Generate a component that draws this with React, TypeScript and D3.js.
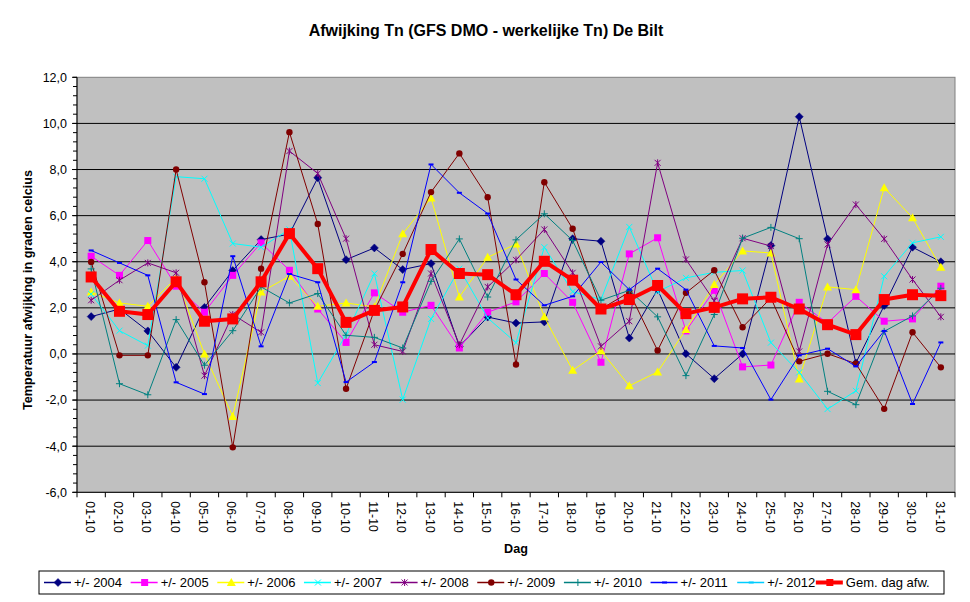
import React from 'react'
import { scaleBand, scaleLinear, line, range } from 'd3';

const days = range(1, 32).map(d => `${String(d).padStart(2, '0')}-10`);

const yTicks = [-6, -4, -2, 0, 2, 4, 6, 8, 10, 12];

const y2004 = [1.62, 1.95, 1.0, -0.58, 2.02, 3.62, 4.96, 5.2, 7.64, 4.09, 4.6, 3.66, 3.92, 0.33, 1.6, 1.34, 1.39, 5.0, 4.89, 0.69, 2.8, 0.01, -1.07, 0.0, 4.7, 10.29, 4.99, -0.39, 2.1, 4.63, 4.0];
const y2005 = [4.24, 3.41, 4.92, 2.94, 1.81, 3.41, 4.82, 3.63, 1.95, 0.5, 2.65, 1.81, 2.11, 0.26, 1.81, 2.26, 3.49, 2.24, -0.36, 4.34, 5.04, 1.0, 2.76, -0.56, -0.48, 2.24, 1.34, 2.5, 1.42, 1.52, 2.94];
const y2006 = [2.69, 2.21, 2.07, 3.3, 0.0, -2.71, 2.69, 3.37, 2.07, 2.21, 2.04, 5.21, 6.77, 2.47, 4.19, 4.77, 1.61, -0.71, 0.14, -1.38, -0.78, 1.06, 3.01, 4.47, 4.38, -1.09, 2.91, 2.79, 7.21, 5.91, 3.76];
const y2007 = [2.6, 1.01, 0.36, 7.69, 7.6, 4.79, 4.63, 5.4, -1.26, 0.84, 3.49, -1.98, 1.52, 3.7, 1.56, 0.49, 4.63, 2.7, 2.36, 5.51, 2.7, 3.3, 3.54, 3.62, 0.49, -0.8, -2.39, -1.6, 3.37, 4.82, 5.08];
const y2008 = [2.33, 3.2, 3.95, 3.52, -0.94, 1.71, 0.94, 8.8, 7.83, 5.0, 0.4, 0.11, 3.49, 0.4, 2.91, 4.08, 5.4, 3.52, 0.33, 1.42, 8.29, 4.1, 2.3, 5.02, 4.68, 0.11, 4.75, 6.48, 4.99, 3.23, 1.61];
const y2009 = [3.99, -0.06, -0.06, 8.0, 3.11, -4.05, 3.7, 9.62, 5.64, -1.51, 1.9, 4.34, 7.02, 8.7, 6.8, -0.46, 7.45, 5.43, 1.95, 2.68, 0.15, 2.65, 3.63, 1.16, 2.43, -0.32, 0.01, -0.42, -2.38, 0.94, -0.58];
const y2010 = [3.69, -1.29, -1.77, 1.49, -0.49, 1.01, 2.91, 2.21, 2.62, 0.81, 0.72, 0.26, 3.15, 4.99, 2.47, 4.95, 6.08, 4.92, 2.33, 2.76, 1.61, -0.94, 1.71, 5.02, 5.49, 5.0, -1.62, -2.2, 0.98, 1.65, 2.85];
const y2011 = [4.49, 3.95, 3.41, -1.23, -1.74, 4.24, 0.33, 3.47, 3.11, -1.22, -0.35, 3.11, 8.22, 6.99, 6.09, 3.23, 2.11, 2.5, 3.99, 2.79, 3.7, 2.79, 0.35, 0.26, -1.98, -0.06, 0.23, -0.54, 1.0, -2.17, 0.5];
const y2012: number[] = [];
const gemiddeld = [3.34, 1.85, 1.71, 3.13, 1.42, 1.52, 3.13, 5.22, 3.70, 1.37, 1.89, 2.04, 4.53, 3.49, 3.44, 2.57, 4.02, 3.20, 1.95, 2.36, 2.97, 1.75, 2.02, 2.39, 2.46, 1.95, 1.27, 0.84, 2.36, 2.57, 2.53];

type Marker = 'diamond' | 'square' | 'triangle' | 'x' | 'star' | 'circle' | 'plus' | 'dash' | 'bigsquare';

interface ISeries {
    name: string,
    values: number[],
    color: string,
    marker: Marker,
    width: number,
}

const series: ISeries[] = [
    { name: '+/- 2004', values: y2004, color: '#000080', marker: 'diamond', width: 1 },
    { name: '+/- 2005', values: y2005, color: '#FF00FF', marker: 'square', width: 1 },
    { name: '+/- 2006', values: y2006, color: '#FFFF00', marker: 'triangle', width: 1 },
    { name: '+/- 2007', values: y2007, color: '#00FFFF', marker: 'x', width: 1 },
    { name: '+/- 2008', values: y2008, color: '#800080', marker: 'star', width: 1 },
    { name: '+/- 2009', values: y2009, color: '#800000', marker: 'circle', width: 1 },
    { name: '+/- 2010', values: y2010, color: '#008080', marker: 'plus', width: 1 },
    { name: '+/- 2011', values: y2011, color: '#0000FF', marker: 'dash', width: 1 },
    { name: '+/- 2012', values: y2012, color: '#00CCFF', marker: 'dash', width: 1 },
    { name: 'Gem. dag afw.', values: gemiddeld, color: '#FF0000', marker: 'bigsquare', width: 4 },
];

const FONT = 'Arial, "Liberation Sans", sans-serif';

const MarkerShape = ({ kind, x, y, color }: { kind: Marker, x: number, y: number, color: string }) => {
    switch (kind) {
        case 'diamond':
            return <path d={`M${x},${y - 4}L${x + 4},${y}L${x},${y + 4}L${x - 4},${y}Z`} fill={color} stroke={color} strokeWidth={0.5} />;
        case 'square':
            return <rect x={x - 3.5} y={y - 3.5} width={7} height={7} fill={color} />;
        case 'triangle':
            return <path d={`M${x},${y - 4.5}L${x + 4.5},${y + 3.5}L${x - 4.5},${y + 3.5}Z`} fill={color} />;
        case 'x':
            return <path d={`M${x - 3},${y - 3}L${x + 3},${y + 3}M${x - 3},${y + 3}L${x + 3},${y - 3}`} stroke={color} strokeWidth={1} fill="none" />;
        case 'star':
            return <path d={`M${x - 3},${y - 3}L${x + 3},${y + 3}M${x - 3},${y + 3}L${x + 3},${y - 3}M${x},${y - 3.5}L${x},${y + 3.5}`} stroke={color} strokeWidth={1} fill="none" />;
        case 'circle':
            return <circle cx={x} cy={y} r={3.2} fill={color} />;
        case 'plus':
            return <path d={`M${x - 3.5},${y}L${x + 3.5},${y}M${x},${y - 3.5}L${x},${y + 3.5}`} stroke={color} strokeWidth={1} fill="none" />;
        case 'dash':
            return <rect x={x - 2.5} y={y - 1} width={5} height={2} fill={color} />;
        case 'bigsquare':
            return <rect x={x - 5.5} y={y - 5.5} width={11} height={11} fill={color} />;
    }
};

const App = () => {
    const width = 970;
    const height = 602;
    const plot = { left: 77, right: 955, top: 77.3, bottom: 492.3 };

    const x = scaleBand<string>()
        .domain(days)
        .range([plot.left, plot.right])
        .paddingInner(0)
        .paddingOuter(0);

    const y = scaleLinear()
        .domain([-6, 12])
        .range([plot.bottom, plot.top]);

    const cx = (d: string) => (x(d) || 0) + x.bandwidth() / 2;

    const path = line<number>()
        .x((_, i) => cx(days[i]))
        .y(v => y(v));

    const minorTicks = range(-6, 12.001, 0.4);
    const fmt = (v: number) => v.toFixed(1).replace('.', ',');

    const legendStep = 86.65;
    const legendX = (i: number) => 41 + i * legendStep - (i === series.length - 1 ? 8 : 0);

    return (
        <svg width={width} height={height} style={{ position: 'absolute', left: 0, top: 0, background: '#fff' }} fontFamily={FONT}>
            <text x={486} y={36} textAnchor="middle" fontSize={16} fontWeight="bold">
                Afwijking Tn (GFS DMO - werkelijke Tn) De Bilt
            </text>

            <rect x={plot.left} y={plot.top} width={plot.right - plot.left} height={plot.bottom - plot.top} fill="#C0C0C0" stroke="#808080" strokeWidth={1} />

            {yTicks.filter(t => t > -6 && t < 12).map(t => (
                <line key={t} x1={plot.left} x2={plot.right} y1={y(t)} y2={y(t)} stroke="#000" strokeWidth={1} />
            ))}

            {/* y axis */}
            <line x1={plot.left} x2={plot.left} y1={plot.top} y2={plot.bottom} stroke="#000" />
            {minorTicks.map((t, i) => (
                <line key={i} x1={plot.left - 4} x2={plot.left} y1={y(t)} y2={y(t)} stroke="#000" />
            ))}
            {yTicks.map(t => (
                <g key={t}>
                    <line x1={plot.left - 5} x2={plot.left} y1={y(t)} y2={y(t)} stroke="#000" />
                    <text x={67} y={y(t)} dy="0.35em" textAnchor="end" fontSize={12.5}>{fmt(t)}</text>
                </g>
            ))}
            <text transform={`translate(32, 290) rotate(-90)`} textAnchor="middle" fontSize={12.6} fontWeight="bold">
                Temperatuur afwijking in graden celcius
            </text>

            {/* x axis */}
            <line x1={plot.left} x2={plot.right} y1={plot.bottom} y2={plot.bottom} stroke="#000" />
            {days.map(d => (
                <line key={d} x1={x(d)} x2={x(d)} y1={plot.bottom} y2={plot.bottom + 5} stroke="#000" />
            ))}
            <line x1={plot.right} x2={plot.right} y1={plot.bottom} y2={plot.bottom + 5} stroke="#000" />
            {days.map(d => (
                <text key={d} transform={`translate(${cx(d) - 1}, ${plot.bottom + 9}) rotate(90)`} dy="0.35em" fontSize={12.3}>{d}</text>
            ))}
            <text x={(plot.left + plot.right) / 2} y={553} textAnchor="middle" fontSize={12.6} fontWeight="bold">Dag</text>

            {/* series */}
            {series.map(s => s.values.length > 0 && (
                <g key={s.name}>
                    <path d={path(s.values) || ''} fill="none" stroke={s.color} strokeWidth={s.width} strokeLinejoin="round" />
                    {s.values.map((v, i) => (
                        <MarkerShape key={i} kind={s.marker} x={cx(days[i])} y={y(v)} color={s.color} />
                    ))}
                </g>
            ))}

            {/* legend */}
            <rect x={39} y={571} width={905} height={23} fill="#fff" stroke="#000" strokeWidth={1} />
            {series.map((s, i) => (
                <g key={s.name} transform={`translate(${legendX(i)}, 582.5)`}>
                    <line x1={3} x2={30} y1={0} y2={0} stroke={s.color} strokeWidth={s.width === 1 ? 1.5 : 4} />
                    <MarkerShape kind={s.marker === 'bigsquare' ? 'square' : s.marker} x={17} y={0} color={s.color} />
                    <text x={33} y={0} dy="0.35em" fontSize={13}>{s.name}</text>
                </g>
            ))}
        </svg>
    )
}

export default App
